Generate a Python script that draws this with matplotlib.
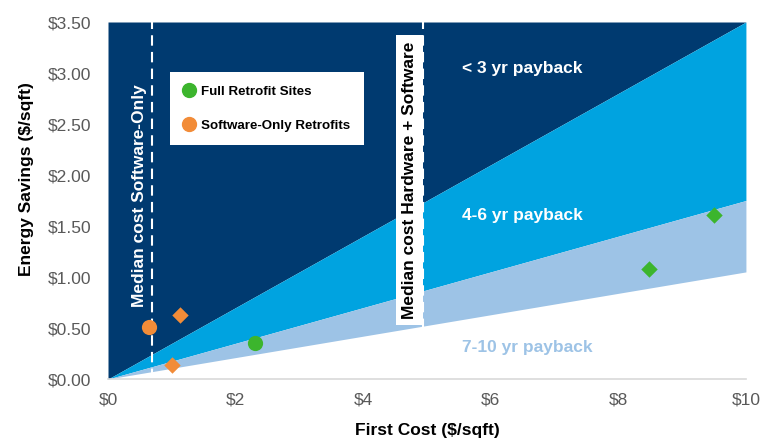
import numpy as np
import matplotlib
matplotlib.use("Agg")
import matplotlib.pyplot as plt
from matplotlib.lines import Line2D

# payback bands: y = slope * x
band_slopes = [0.35, 0.175, 0.105]
band_labels = ["< 3 yr payback", "4-6 yr payback", "7-10 yr payback"]

full_circle_x = [2.30]
full_circle_y = [0.35]
full_diamond_x = [8.48, 9.50]
full_diamond_y = [1.08, 1.61]

soft_circle_x = [0.64]
soft_circle_y = [0.51]
soft_diamond_x = [1.13, 1.00]
soft_diamond_y = [0.63, 0.14]

median_software = 0.685
median_hardware = 4.94

x_ticks = [0, 2, 4, 6, 8, 10]
y_ticks = [0, 0.5, 1.0, 1.5, 2.0, 2.5, 3.0, 3.5]

NAVY = "#003a70"
MID = "#00a3e0"
LIGHT = "#9dc3e6"
GREEN = "#3cb52d"
ORANGE = "#f28c38"
TICK = "#595959"

plt.rcParams.update({
    "font.family": ["Liberation Sans", "DejaVu Sans"],
    "font.size": 12.5,
})

fig = plt.figure(figsize=(7.77, 4.40), dpi=100)
ax = fig.add_axes([0.139, 0.1386, 0.821, 0.8114])

xmax, ymax = 10, 3.5
xs = np.array([0, xmax])

# background = fastest payback band
ax.fill_between(xs, band_slopes[0] * xs, ymax, color=NAVY, lw=0, zorder=0)
ax.fill_between(xs, band_slopes[1] * xs, band_slopes[0] * xs, color=MID, lw=0, zorder=0)
ax.fill_between(xs, band_slopes[2] * xs, band_slopes[1] * xs, color=LIGHT, lw=0, zorder=0)

# median cost lines
for xm in [median_software, median_hardware]:
    ax.axvline(xm, color="white", lw=1.5, ls=(0, (5, 3)), zorder=1)

ax.text(0.49, 1.80, "Median cost Software-Only", rotation=90, color="white",
        fontweight="bold", ha="center", va="center", zorder=3)
ax.text(4.72, 1.95, "Median cost Hardware + Software", rotation=90, color="black",
        fontweight="bold", ha="center", va="center", zorder=3,
        bbox=dict(boxstyle="square,pad=0.35", fc="white", ec="none"))

# band labels
ax.text(5.55, 3.04, band_labels[0], color="white", fontweight="bold", va="center")
ax.text(5.55, 1.60, band_labels[1], color="white", fontweight="bold", va="center")
ax.text(5.55, 0.31, band_labels[2], color=LIGHT, fontweight="bold", va="center")

# points
ax.scatter(full_circle_x, full_circle_y, s=120, marker="o", color=GREEN, lw=0, zorder=4)
ax.scatter(full_diamond_x, full_diamond_y, s=70, marker="D", color=GREEN, lw=0, zorder=4)
ax.scatter(soft_circle_x, soft_circle_y, s=120, marker="o", color=ORANGE, lw=0, zorder=4)
ax.scatter(soft_diamond_x, soft_diamond_y, s=70, marker="D", color=ORANGE, lw=0, zorder=4)

handles = [
    Line2D([], [], marker="o", ls="none", color=GREEN, markersize=10, label="Full Retrofit Sites"),
    Line2D([], [], marker="o", ls="none", color=ORANGE, markersize=10, label="Software-Only Retrofits"),
]
leg = ax.legend(handles=handles, loc="upper left", bbox_to_anchor=(0.097, 0.86),
                frameon=True, fancybox=False, borderaxespad=0, borderpad=1.0,
                labelspacing=1.65, handlelength=0.8, handletextpad=0.55,
                prop={"weight": "bold", "size": 9.6})
leg.get_frame().set_facecolor("white")
leg.get_frame().set_edgecolor("none")
leg.get_frame().set_alpha(1)
leg.set_zorder(5)

ax.set_xlim(0, xmax)
ax.set_ylim(0, ymax)
ax.set_xticks(x_ticks)
ax.set_xticklabels([f"${v}" for v in x_ticks])
ax.set_yticks(y_ticks)
ax.set_yticklabels([f"${v:.2f}" for v in y_ticks])
ax.tick_params(length=0, colors=TICK, labelsize=12.5)
ax.tick_params(axis="x", pad=10)
ax.tick_params(axis="y", pad=12)

for side in ["top", "right", "left"]:
    ax.spines[side].set_visible(False)
ax.spines["bottom"].set_color("#d9d9d9")
ax.spines["bottom"].set_linewidth(1.2)

ax.set_xlabel("First Cost ($/sqft)", fontweight="bold", color="black")
ax.xaxis.set_label_coords(0.5, -0.122)
ax.set_ylabel("Energy Savings ($/sqft)", fontweight="bold", color="black")
ax.yaxis.set_label_coords(-0.116, 0.56)

fig.savefig("out.png", dpi=100)
